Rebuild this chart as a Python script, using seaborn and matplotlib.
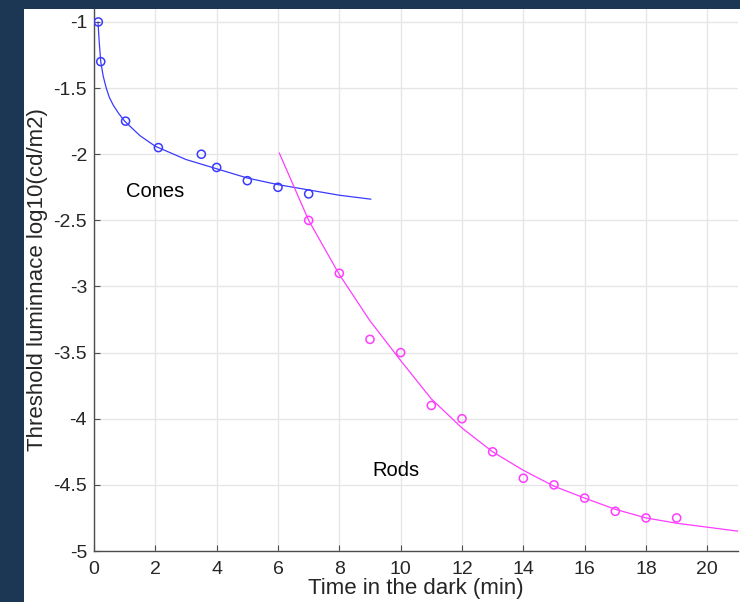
import numpy as np
import matplotlib
matplotlib.use("Agg")
import matplotlib.pyplot as plt
import seaborn as sns

# measured thresholds
cone_t = [0.14, 0.22, 1.03, 2.1, 3.5, 4.0, 5.0, 6.0, 7.0]
cone_y = [-1.0, -1.3, -1.75, -1.95, -2.0, -2.1, -2.2, -2.25, -2.3]
rod_t = [7, 8, 9, 10, 11, 12, 13, 14, 15, 16, 17, 18, 19]
rod_y = [-2.5, -2.9, -3.4, -3.5, -3.9, -4.0, -4.25, -4.45, -4.5, -4.6, -4.7, -4.75, -4.75]

# fitted curves
cone_fit_t = [0.13, 0.17, 0.22, 0.3, 0.4, 0.5, 0.63, 0.8, 1.0, 1.5, 2, 3, 4, 5, 6, 7, 8, 9.03]
cone_fit_y = [-1.0, -1.15, -1.3, -1.41, -1.5, -1.57, -1.63, -1.69, -1.75, -1.86, -1.94, -2.04,
              -2.11, -2.18, -2.23, -2.27, -2.31, -2.34]
rod_fit_t = [6.04, 7, 8, 9, 10, 11, 12, 13, 14, 15, 16, 17, 18, 19, 20, 21]
rod_fit_y = [-1.99, -2.5, -2.91, -3.26, -3.56, -3.85, -4.07, -4.25, -4.39, -4.51, -4.6,
             -4.685, -4.75, -4.79, -4.82, -4.85]

x_ticks = list(range(0, 21, 2))
y_ticks = [-5, -4.5, -4, -3.5, -3, -2.5, -2, -1.5, -1]
y_labels = ["-5", "-4.5", "-4", "-3.5", "-3", "-2.5", "-2", "-1.5", "-1"]

sns.set_style("whitegrid")
plt.rcParams['font.family'] = ['Liberation Sans', 'DejaVu Sans']

blue = "#3a3aff"
mag = "#ff3cff"
ink = "#262626"

fig = plt.figure(figsize=(7.4, 6.02), dpi=100)
fig.patch.set_facecolor("#1b3754")
# white panel of the slide
fig.add_artist(plt.Rectangle((24 / 740, 0), 1, (602 - 9) / 602,
                             transform=fig.transFigure, facecolor="white",
                             edgecolor="none", zorder=0))

ax = fig.add_axes([94 / 740, 51 / 602, (738 - 94) / 740, (551 - 9) / 602])
ax.set_facecolor("white")

sns.lineplot(x=cone_fit_t, y=cone_fit_y, ax=ax, color=blue, linewidth=0.9, sort=False)
sns.lineplot(x=rod_fit_t, y=rod_fit_y, ax=ax, color=mag, linewidth=0.9, sort=False)
sns.scatterplot(x=cone_t, y=cone_y, ax=ax, marker="o", s=34, facecolor="none",
                edgecolor=blue, linewidth=1.1, zorder=3)
sns.scatterplot(x=rod_t, y=rod_y, ax=ax, marker="o", s=34, facecolor="none",
                edgecolor=mag, linewidth=1.1, zorder=3)

ax.text(1.04, -2.285, "Cones", fontsize=14.5, color="black", va="center", ha="left")
ax.text(9.07, -4.39, "Rods", fontsize=14.5, color="black", va="center", ha="left")

ax.set_xlim(0, 21)
ax.set_ylim(-5, -0.902)
ax.set_xticks(x_ticks)
ax.set_yticks(y_ticks)
ax.set_yticklabels(y_labels)
ax.grid(True, color="#e6e6e6", linewidth=1.0)
ax.set_axisbelow(True)

for s in ["top", "right"]:
    ax.spines[s].set_visible(False)
for s in ["left", "bottom"]:
    ax.spines[s].set_color("#4d4d4d")
    ax.spines[s].set_linewidth(1.0)

ax.tick_params(axis="both", direction="in", length=4, width=0.8, color="#4d4d4d",
               labelsize=14, labelcolor=ink, left=True, bottom=True)
ax.tick_params(axis="x", pad=7)
ax.tick_params(axis="y", pad=5)

ax.set_xlabel("Time in the dark (min)", fontsize=16, color=ink, labelpad=0)
ax.set_ylabel("Threshold luminnace log10(cd/m2)", fontsize=16, color=ink, labelpad=4)

fig.savefig("out.png", dpi=100, facecolor=fig.get_facecolor())
